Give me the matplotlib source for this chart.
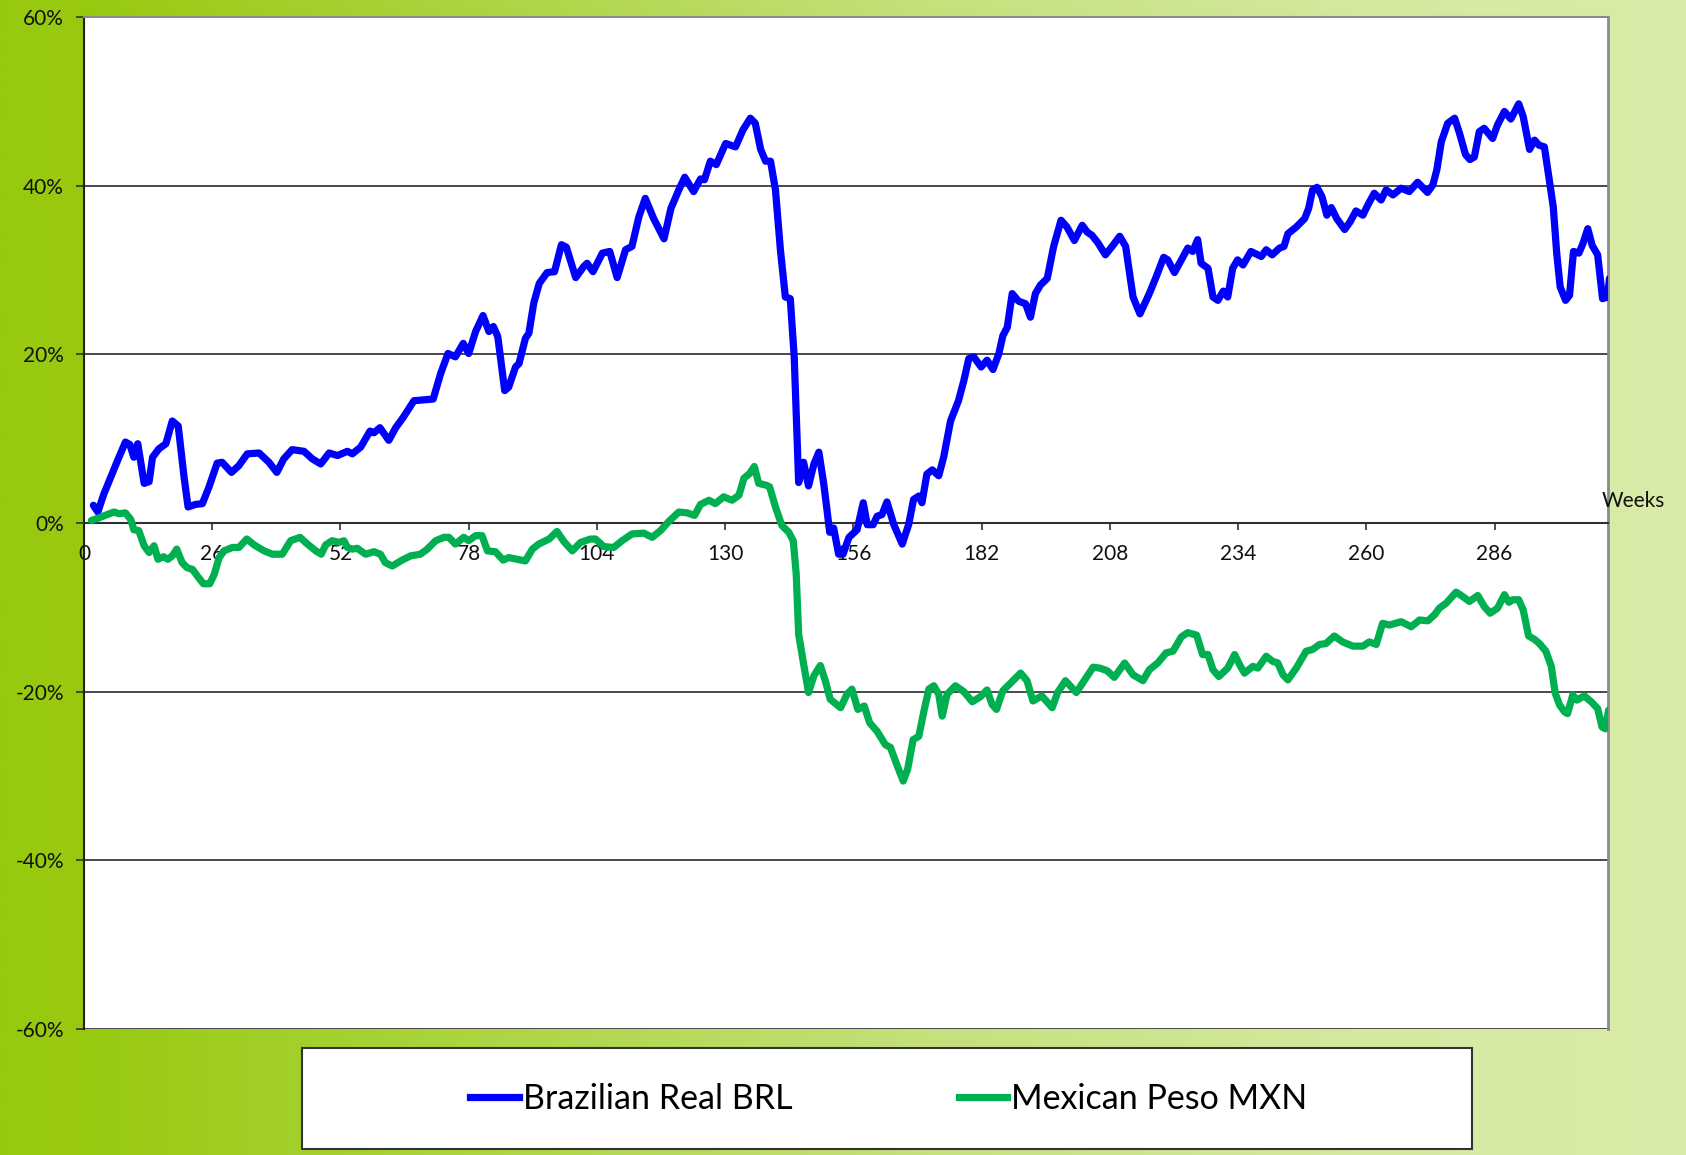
import numpy as np
import matplotlib
matplotlib.use("Agg")
import matplotlib.pyplot as plt
from matplotlib.patches import Rectangle
from matplotlib.lines import Line2D
from matplotlib.ticker import FuncFormatter

plt.rcParams['font.family'] = ['Lato', 'DejaVu Sans']

# ---------------- data (weeks, % change) ----------------
brl_weeks = [1.9, 2.8, 4.0, 5.4, 6.8, 8.4, 9.3, 10.1, 10.9, 12.2, 13.2, 13.9, 15.2, 16.6, 17.9, 19.1, 20.3, 21.1,
             22.6, 24.0, 25.3, 27.0, 28.0, 29.9, 31.4, 33.1, 35.5, 37.5, 39.1, 40.5, 42.2, 44.6, 46.3, 48.0, 49.7,
             51.4, 53.4, 54.4, 56.1, 58.0, 58.8, 60.0, 61.8, 63.2, 64.7, 66.9, 68.9, 70.8, 72.3, 73.8, 75.3, 76.9,
             78.0, 79.4, 80.9, 82.1, 83.0, 83.9, 85.3, 86.1, 87.5, 88.2, 89.5, 90.2, 91.2, 92.3, 93.9, 95.4, 96.8,
             97.8, 99.7, 101.3, 102.0, 103.2, 105.1, 106.6, 108.1, 109.8, 111.1, 112.5, 113.8, 115.5, 117.6, 119.0,
             120.6, 121.8, 123.6, 125.0, 125.8, 127.0, 128.2, 130.1, 132.1, 133.6, 135.1, 136.1, 137.2, 138.2,
             139.2, 140.2, 141.2, 142.2, 143.2, 144.0, 144.9, 145.9, 146.9, 148.0, 149.0, 150.0, 151.2, 152.0,
             153.0, 153.9, 155.1, 156.75, 158.0, 158.8, 160.0, 160.8, 161.8, 162.8, 164.2, 165.9, 167.2, 168.2,
             169.3, 169.9, 170.9, 172.0, 173.3, 174.3, 175.7, 177.3, 178.4, 179.4, 180.4, 181.9, 183.1, 184.3,
             185.5, 186.3, 187.2, 188.2, 189.5, 190.9, 191.9, 192.9, 193.9, 195.3, 196.6, 198.1, 199.3, 200.8,
             202.4, 203.4, 204.4, 205.6, 207.1, 208.6, 210.0, 211.2, 212.7, 214.1, 216.0, 217.4, 218.9, 219.75,
             221.1, 222.5, 223.8, 224.8, 225.8, 226.5, 227.9, 228.9, 229.9, 231.0, 231.9, 232.9, 233.9, 235.0,
             236.6, 238.7, 239.7, 240.9, 242.4, 243.3, 244.1, 245.8, 247.5, 248.3, 249.1, 250.0, 251.0, 252.0,
             252.9, 254.0, 255.6, 256.7, 257.9, 259.3, 260.3, 261.6, 263.0, 264.0, 265.4, 267.05, 268.7, 270.4,
             271.4, 272.4, 273.5, 274.3, 275.2, 276.5, 277.9, 278.9, 280.1, 281.0, 281.9, 282.9, 283.9, 285.6,
             286.6, 288.0, 289.3, 290.9, 291.8, 293.1, 294.1, 295.0, 296.1, 297.1, 297.9, 298.6, 299.3, 300.4,
             301.2, 302.0, 303.1, 303.9, 304.9, 305.8, 306.9, 307.9, 308.9, 309.3]
brl_values = [2.1, 1.3, 3.4, 5.4, 7.4, 9.6, 9.3, 7.8, 9.4, 4.7, 4.9, 7.8, 8.8, 9.4, 12.1, 11.5, 5.4, 1.9,
              2.2, 2.3, 4.2, 7.1, 7.2, 6.0, 6.8, 8.2, 8.3, 7.2, 6.0, 7.6, 8.7, 8.5, 7.6, 7.0, 8.3,
              8.0, 8.5, 8.2, 9.0, 10.9, 10.7, 11.3, 9.8, 11.3, 12.5, 14.5, 14.6, 14.7, 17.7, 20.1, 19.7, 21.3,
              20.1, 22.7, 24.6, 22.7, 23.3, 22.1, 15.7, 16.1, 18.5, 18.9, 21.9, 22.5, 26.1, 28.4, 29.7, 29.8, 33.0,
              32.7, 29.1, 30.4, 30.8, 29.8, 32.0, 32.2, 29.1, 32.4, 32.8, 36.3, 38.5, 36.1, 33.7, 37.3,
              39.5, 41.0, 39.3, 40.8, 40.7, 42.9, 42.5, 45.0, 44.6, 46.6, 48.0, 47.4, 44.3, 42.9,
              42.9, 39.5, 32.4, 26.8, 26.6, 19.7, 4.8, 7.2, 4.4, 7.0, 8.4, 4.6, -1.1, -0.6,
              -3.7, -3.7, -1.7, -0.8, 2.4, -0.2, -0.2, 0.8, 1.0, 2.5, -0.2, -2.5, -0.2, 2.8,
              3.2, 2.4, 5.8, 6.3, 5.6, 7.8, 12.1, 14.5, 16.9, 19.5, 19.7, 18.5, 19.3, 18.2,
              20.1, 22.2, 23.2, 27.2, 26.3, 26.0, 24.4, 27.2, 28.2, 29.0, 32.8, 35.9, 35.1, 33.5,
              35.3, 34.5, 34.1, 33.2, 31.8, 32.9, 34.0, 32.8, 26.8, 24.8, 27.2, 29.2, 31.5, 31.2,
              29.7, 31.2, 32.6, 32.2, 33.6, 30.8, 30.2, 26.8, 26.4, 27.5, 26.8, 30.2, 31.2, 30.6,
              32.2, 31.6, 32.4, 31.8, 32.6, 32.8, 34.3, 35.1, 36.1, 37.3, 39.5, 39.8, 38.7, 36.5,
              37.4, 36.1, 34.8, 35.7, 37.0, 36.5, 37.7, 39.1, 38.3, 39.5, 38.9, 39.7, 39.3, 40.4,
              39.8, 39.2, 40.1, 41.9, 45.2, 47.4, 48.0, 46.2, 43.7, 43.1, 43.4, 46.4, 46.8, 45.6,
              47.2, 48.8, 47.9, 49.7, 48.2, 44.3, 45.4, 44.8, 44.6, 40.7, 37.5, 32.0, 28.0, 26.4,
              27.0, 32.2, 32.0, 33.1, 34.9, 32.9, 31.8, 26.6, 26.8, 29.0]

mxn_weeks = [1.5, 3.0, 4.7, 6.1, 7.1, 8.4, 9.5, 10.1, 11.1, 12.2, 13.2, 14.2, 15.0, 16.1, 17.0, 17.9, 18.8,
             19.9, 20.9, 22.0, 23.0, 24.2, 25.5, 26.4, 27.4, 28.4, 30.1, 31.4, 33.0, 34.5, 36.5, 38.2, 40.2,
             41.9, 43.8, 45.3, 47.0, 48.1, 49.0, 50.3, 51.7, 52.7, 53.4, 54.4, 55.4, 57.1, 58.8, 60.1, 61.1,
             62.5, 64.5, 66.2, 68.2, 69.6, 71.3, 73.0, 74.0, 75.3, 77.0, 78.0, 79.4, 80.7, 81.8, 83.4, 85.0,
             86.1, 87.8, 89.5, 90.9, 92.2, 94.3, 95.9, 97.3, 99.0, 100.7, 102.7, 103.7, 105.4, 107.4, 109.1,
             111.1, 113.5, 115.2, 116.9, 118.6, 120.6, 122.3, 123.8, 125.0, 126.7, 128.0, 129.7, 131.4, 132.8,
             133.8, 135.0, 135.9, 136.8, 138.2, 139.0, 140.2, 141.5, 142.9, 143.8, 144.4, 144.9, 145.9, 146.9,
             148.0, 149.3, 150.3, 151.3, 153.4, 154.7, 155.7, 156.9, 158.2, 159.3, 160.8, 162.5, 163.5, 164.9,
             166.1, 167.0, 168.1, 169.25, 170.3, 171.3, 172.3, 173.3, 174.0, 175.0, 176.7, 178.4, 180.1, 181.75,
             183.1, 184.1, 185.0, 186.3, 188.2, 189.9, 191.2, 192.4, 194.2, 196.3, 197.4, 199.0, 201.2, 203.0,
             204.6, 205.9, 207.4, 208.9, 211.0, 212.7, 214.7, 216.0, 217.7, 219.4, 220.8, 222.5, 223.8, 225.6,
             226.8, 227.9, 228.9, 230.1, 231.9, 233.3, 234.3, 235.3, 237.0, 238.0, 239.7, 241.0, 242.05, 243.1,
             244.1, 245.8, 247.8, 249.1, 250.5, 251.8, 253.5, 255.2, 257.25, 259.3, 260.6, 262.0, 263.3, 264.7,
             267.05, 269.1, 270.8, 272.45, 273.8, 274.8, 276.2, 278.2, 279.5, 280.9, 282.6, 283.9, 285.1, 286.6,
             288.0, 288.9, 289.7, 290.9, 291.8, 292.9, 294.1, 295.1, 296.4, 297.5, 298.3, 299.2, 300.2, 300.8,
             301.85, 302.7, 304.2, 305.6, 306.9, 307.8, 308.5, 309.1]
mxn_values = [0.3, 0.6, 1.0, 1.3, 1.1, 1.2, 0.4, -0.8, -0.9, -2.7, -3.5, -2.7, -4.3, -4.0, -4.3, -3.9, -3.1,
              -4.7, -5.3, -5.5, -6.3, -7.2, -7.2, -6.1, -4.1, -3.3, -2.9, -2.9, -1.9, -2.6, -3.3, -3.7, -3.7,
              -2.1, -1.7, -2.5, -3.3, -3.7, -2.6, -2.1, -2.3, -2.1, -2.9, -3.1, -3.0, -3.7, -3.4, -3.7, -4.7,
              -5.1, -4.4, -3.9, -3.7, -3.1, -2.1, -1.7, -1.7, -2.5, -1.7, -2.1, -1.5, -1.5, -3.3, -3.4, -4.4,
              -4.1, -4.3, -4.5, -3.1, -2.5, -1.9, -1.0, -2.2, -3.3, -2.3, -1.9, -1.9, -2.8, -2.9, -2.1,
              -1.3, -1.2, -1.7, -0.9, 0.2, 1.3, 1.2, 0.9, 2.2, 2.7, 2.3, 3.1, 2.7, 3.3,
              5.3, 5.9, 6.7, 4.7, 4.5, 4.3, 1.9, -0.3, -1.1, -2.1, -6.0, -13.2, -16.7, -20.1,
              -18.1, -16.9, -18.7, -20.9, -21.9, -20.3, -19.7, -22.1, -21.7, -23.7, -24.7, -26.3, -26.6, -28.8,
              -30.6, -29.2, -25.7, -25.3, -22.3, -19.7, -19.3, -20.3, -22.9, -20.3, -19.3, -20.0, -21.2, -20.6,
              -19.8, -21.5, -22.1, -19.9, -18.8, -17.8, -18.7, -21.1, -20.5, -21.9, -20.1, -18.7, -20.1, -18.5,
              -17.1, -17.2, -17.5, -18.3, -16.6, -18.0, -18.7, -17.4, -16.6, -15.4, -15.2, -13.5, -13.0, -13.3,
              -15.6, -15.6, -17.4, -18.2, -17.2, -15.6, -16.8, -17.8, -17.0, -17.2, -15.8, -16.4, -16.6, -18.0,
              -18.6, -17.2, -15.2, -15.0, -14.4, -14.3, -13.4, -14.1, -14.6, -14.6, -14.1, -14.4, -11.9, -12.1,
              -11.7, -12.3, -11.5, -11.6, -10.9, -10.1, -9.5, -8.2, -8.7, -9.3, -8.6, -9.9, -10.7, -10.1,
              -8.5, -9.4, -9.1, -9.1, -10.3, -13.4, -13.8, -14.3, -15.2, -17.0, -20.2, -21.6, -22.4, -22.6,
              -20.4, -21.0, -20.5, -21.2, -22.0, -24.2, -24.4, -22.2]

series_labels = ["Brazilian Real BRL", "Mexican Peso MXN"]
x_ticks = [0, 26, 52, 78, 104, 130, 156, 182, 208, 234, 260, 286]
y_ticks = [-60, -40, -20, 0, 20, 40, 60]

# ---------------- figure ----------------
W, H = 1686, 1155
fig = plt.figure(figsize=(W / 100, H / 100), dpi=100)

# background gradient
bg = fig.add_axes([0, 0, 1, 1], zorder=-5)
stops = np.array([0.0, 0.06, 0.25, 0.55, 0.8, 1.0])
cols = np.array([[0x97, 0xc9, 0x0e], [0x99, 0xca, 0x12], [0xa9, 0xd3, 0x3a],
                 [0xc4, 0xe1, 0x7c], [0xd3, 0xe9, 0x9e], [0xd9, 0xec, 0xaa]]) / 255.0
xs = np.linspace(0, 1, 800)
grad = np.stack([np.interp(xs, stops, cols[:, i]) for i in range(3)], axis=-1)[None, :, :]
bg.imshow(grad, aspect='auto', extent=[0, 1, 0, 1])
bg.set_axis_off()

left, right = 84 / W, 1608 / W
bottom, top = 1 - 1029 / H, 1 - 17 / H
ax = fig.add_axes([left, bottom, right - left, top - bottom], zorder=1)
ax.set_facecolor('white')

LW = 5.2
ax.plot(brl_weeks, brl_values, color='#0000ff', lw=LW, solid_joinstyle='round',
        solid_capstyle='round', zorder=3, label=series_labels[0])
ax.plot(mxn_weeks, mxn_values, color='#00b050', lw=LW, solid_joinstyle='round',
        solid_capstyle='round', zorder=3, label=series_labels[1])

ax.set_xlim(0, 309)
ax.set_ylim(-60, 60)
ax.set_yticks(y_ticks)
ax.set_xticks(x_ticks)
ax.yaxis.set_major_formatter(FuncFormatter(lambda v, p: f"{v:.0f}%"))
for yv in y_ticks:
    ax.axhline(yv, color='#3c3c3c', lw=1.3, zorder=1)

ax.spines['bottom'].set_position(('data', 0))
ax.spines['bottom'].set_color('#303030')
ax.spines['bottom'].set_linewidth(1.5)
ax.spines['left'].set_color('#202020')
ax.spines['left'].set_linewidth(1.5)
ax.spines['top'].set_color('#8a8a8a')
ax.spines['top'].set_linewidth(1.5)
ax.spines['right'].set_color('#8a8a8a')
ax.spines['right'].set_linewidth(2)

ax.tick_params(axis='x', direction='out', length=5, width=1.2, color='#303030',
               pad=10, labelsize=15, labelcolor='#111111')
ax.tick_params(axis='y', direction='out', length=5.5, width=1.2, color='#303030',
               pad=9, labelsize=15, labelcolor='#111111')

fig.text(1602 / W, 1 - 501 / H, "Weeks", fontsize=15, color='#111111', ha='left', va='center')

# legend box
fig.patches.append(Rectangle((302 / W, 1 - 1149 / H), (1472 - 302) / W, (1149 - 1048) / H,
                             transform=fig.transFigure, facecolor='white', edgecolor='#333333',
                             lw=1.5, zorder=2))
handles = [Line2D([], [], color='#0000ff', lw=LW), Line2D([], [], color='#00b050', lw=LW)]
leg = fig.legend(handles, series_labels, loc='center', bbox_to_anchor=(889 / W, 1 - 1099 / H),
                 ncol=2, frameon=False, fontsize=24.5, handlelength=1.42, handletextpad=0.12,
                 columnspacing=4.9)
leg.set_zorder(3)

fig.savefig("out.png", dpi=100)
